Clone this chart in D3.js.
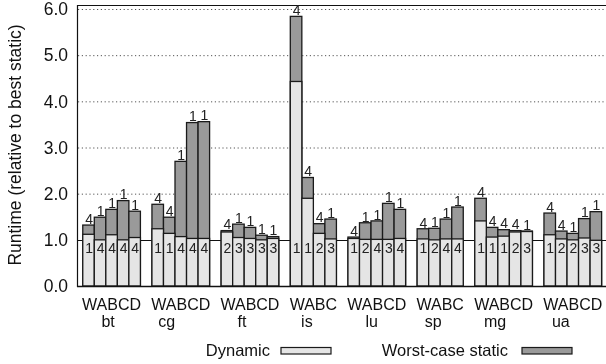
<!DOCTYPE html>
<html>
<head>
<meta charset="utf-8">
<script src="https://cdn.jsdelivr.net/npm/d3@7"></script>
<style>
  html, body { margin: 0; padding: 0; background: #fff; }
  svg { display: block; font-family: "Liberation Sans", Arial, Helvetica, sans-serif; will-change: transform; }
</style>
</head>
<body>
<svg id="chart" width="606" height="364"></svg>
<script>
// ---------- data ----------
const groups = ["bt", "cg", "ft", "is", "lu", "sp", "mg", "ua"];
const barLetters = ["WABCD", "WABCD", "WABCD", "WABC", "WABCD", "WABC", "WABCD", "WABCD"];
const worstStatic = [
  [1.32, 1.49, 1.66, 1.85, 1.62],
  [1.77, 1.49, 2.70, 3.54, 3.56],
  [1.20, 1.34, 1.27, 1.10, 1.07],
  [5.84, 2.35, 1.35, 1.45],
  [1.06, 1.37, 1.41, 1.79, 1.66],
  [1.24, 1.25, 1.45, 1.71],
  [1.90, 1.27, 1.22, 1.20, 1.19],
  [1.58, 1.19, 1.14, 1.46, 1.61]
];
const dynamic = [
  [1.12, 1.00, 1.11, 1.00, 1.05],
  [1.24, 1.14, 1.07, 1.03, 1.03],
  [1.17, 1.05, 1.03, 1.00, 1.03],
  [4.43, 1.90, 1.14, 1.02],
  [1.03, 1.01, 1.01, 1.01, 1.03],
  [1.02, 1.00, 1.02, 1.02],
  [1.41, 1.06, 1.08, 1.17, 1.18],
  [1.11, 1.02, 1.00, 1.04, 0.99]
];
const topLabels = [
  ["4", "1", "1", "1", "1"],
  ["4", "4", "1", "1", "1"],
  ["4", "1", "1", "1", "1"],
  ["4", "4", "4", "1"],
  ["4", "1", "1", "1", "1"],
  ["4", "1", "1", "1"],
  ["4", "4", "4", "4", "1"],
  ["4", "4", "1", "1", "1"]
];
const bottomLabels = [
  ["1", "4", "4", "4", "4"],
  ["1", "1", "4", "4", "4"],
  ["2", "3", "3", "3", "3"],
  ["1", "1", "2", "3"],
  ["1", "2", "4", "3", "4"],
  ["1", "2", "4", "4"],
  ["1", "1", "1", "2", "3"],
  ["1", "2", "2", "3", "3"]
];
const yTicks = [0, 1, 2, 3, 4, 5, 6];
const yTitle = "Runtime (relative to best static)";
const legendLabels = ["Dynamic", "Worst-case static"];

// ---------- layout ----------
const plotLeft = 77, plotTop = 5, plotBottom = 286;
const slotW = 11.53;
const lightFill = "#e5e5e5", darkFill = "#9a9a9a", edge = "#1a1a1a";
// group name nudges (the group name is not exactly centred under its bars)
const nameNudge = [-3.5, -14, -8, -6.5, -5, -7, -8.5, -12];

const svg = d3.select("#chart");

const slotKeys = [];
const bars = [];
groups.forEach((g, gi) => {
  if (gi > 0) slotKeys.push("gap" + gi);
  barLetters[gi].split("").forEach((L, bi) => {
    const key = g + "-" + L;
    slotKeys.push(key);
    bars.push({
      key, g, gi, bi,
      worst: worstStatic[gi][bi],
      dyn: dynamic[gi][bi],
      top: topLabels[gi][bi],
      bottom: bottomLabels[gi][bi]
    });
  });
});

const nSteps = slotKeys.length + 1;
const x = d3.scaleBand()
  .domain(slotKeys)
  .range([plotLeft, plotLeft + nSteps * slotW])
  .paddingInner(0)
  .paddingOuter(0.5);

const y = d3.scaleLinear().domain([0, 6]).range([plotBottom, 9]);
const plotRight = 606;

// dotted grid lines
svg.append("g")
  .selectAll("line")
  .data(yTicks.filter(t => t >= 2))
  .join("line")
  .attr("x1", plotLeft + 1).attr("x2", plotRight)
  .attr("y1", d => y(d) + 0.5).attr("y2", d => y(d) + 0.5)
  .attr("stroke", "#555")
  .attr("stroke-width", 1)
  .attr("stroke-dasharray", "1.2,2.6");

// reference line at 1.0
svg.append("line")
  .attr("x1", plotLeft).attr("x2", plotRight)
  .attr("y1", Math.round(y(1)) + 0.5).attr("y2", Math.round(y(1)) + 0.5)
  .attr("stroke", "#111").attr("stroke-width", 1);

// frame: top, left
svg.append("line")
  .attr("x1", plotLeft).attr("x2", plotRight)
  .attr("y1", plotTop + 0.5).attr("y2", plotTop + 0.5)
  .attr("stroke", "#111").attr("stroke-width", 1.2);
svg.append("line")
  .attr("x1", plotLeft + 0.5).attr("x2", plotLeft + 0.5)
  .attr("y1", plotTop).attr("y2", plotBottom + 1)
  .attr("stroke", "#111").attr("stroke-width", 1.2);

// bars
const bw = x.bandwidth();
const barG = svg.append("g");
barG.selectAll("rect.worst")
  .data(bars)
  .join("rect")
  .attr("class", "worst")
  .attr("x", d => x(d.key))
  .attr("width", bw)
  .attr("y", d => y(d.worst))
  .attr("height", d => y(0) - y(d.worst))
  .attr("fill", darkFill)
  .attr("stroke", edge)
  .attr("stroke-width", 1.3);
barG.selectAll("rect.dyn")
  .data(bars)
  .join("rect")
  .attr("class", "dyn")
  .attr("x", d => x(d.key))
  .attr("width", bw)
  .attr("y", d => y(d.dyn))
  .attr("height", d => y(0) - y(d.dyn))
  .attr("fill", lightFill)
  .attr("stroke", edge)
  .attr("stroke-width", 1.3);

// bottom axis line
svg.append("line")
  .attr("x1", plotLeft).attr("x2", plotRight)
  .attr("y1", plotBottom + 0.5).attr("y2", plotBottom + 0.5)
  .attr("stroke", "#111").attr("stroke-width", 1.5);

// labels inside (bottom) and above bars
svg.append("g").selectAll("text")
  .data(bars)
  .join("text")
  .attr("x", d => x(d.key) + bw / 2 + 0.5)
  .attr("y", 253)
  .attr("text-anchor", "middle")
  .attr("font-size", 14)
  .attr("fill", "#222")
  .text(d => d.bottom);
svg.append("g").selectAll("text")
  .data(bars)
  .join("text")
  .attr("x", d => x(d.key) + bw / 2 + 0.5)
  .attr("y", d => y(d.worst) - 1.2)
  .attr("text-anchor", "middle")
  .attr("font-size", 14)
  .attr("fill", "#222")
  .text(d => d.top);

// y tick labels
svg.append("g").selectAll("text")
  .data(yTicks)
  .join("text")
  .attr("x", 68)
  .attr("y", d => y(d))
  .attr("dy", "0.36em")
  .attr("text-anchor", "end")
  .attr("font-size", 17.5)
  .attr("fill", "#111")
  .text(d => d3.format(".1f")(d));

// y title
svg.append("text")
  .attr("transform", `translate(21,145) rotate(-90)`)
  .attr("text-anchor", "middle")
  .attr("font-size", 17.5)
  .attr("fill", "#111")
  .text(yTitle);

// x labels: bar letters and group names
groups.forEach((g, gi) => {
  const keys = barLetters[gi].split("").map(L => g + "-" + L);
  const x0 = x(keys[0]), x1 = x(keys[keys.length - 1]) + bw;
  const cx = (x0 + x1) / 2;
  svg.append("text")
    .attr("x", cx).attr("y", 310)
    .attr("text-anchor", "middle")
    .attr("font-size", 16)
    .attr("fill", "#111")
    .text(barLetters[gi]);
  svg.append("text")
    .attr("x", cx + nameNudge[gi]).attr("y", 327)
    .attr("text-anchor", "middle")
    .attr("font-size", 16)
    .attr("fill", "#111")
    .text(g);
});

// legend
const legend = svg.append("g");
const legendItems = [
  { label: legendLabels[0], fill: lightFill, textEnd: 270, boxX: 281 },
  { label: legendLabels[1], fill: darkFill, textEnd: 508, boxX: 522 }
];
legendItems.forEach(it => {
  legend.append("text")
    .attr("x", it.textEnd).attr("y", 356)
    .attr("text-anchor", "end")
    .attr("font-size", 16.5)
    .attr("fill", "#111")
    .text(it.label);
  legend.append("rect")
    .attr("x", it.boxX).attr("y", 347.5)
    .attr("width", 50).attr("height", 6.5)
    .attr("fill", it.fill)
    .attr("stroke", edge)
    .attr("stroke-width", 1.2);
});
</script>
</body>
</html>
